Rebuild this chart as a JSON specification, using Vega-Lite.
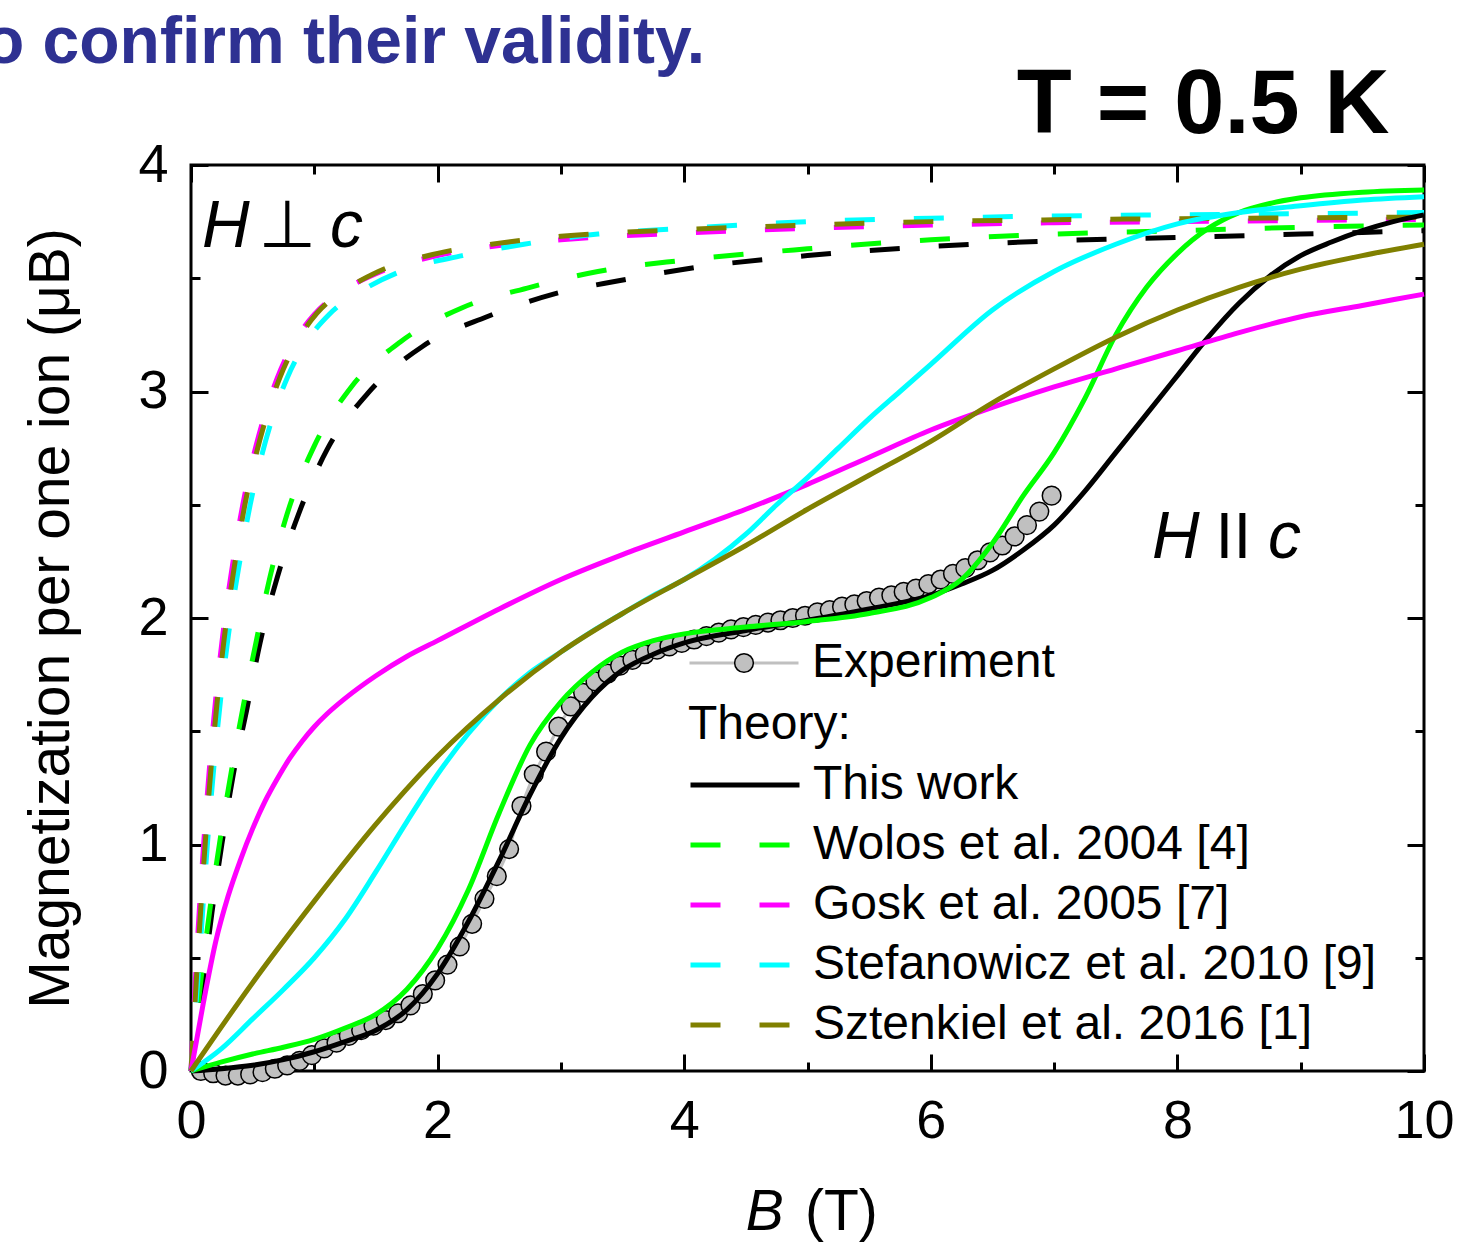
{
  "$schema": "https://vega.github.io/schema/vega-lite/v6.json",
  "width": 1233,
  "height": 906,
  "autosize": {"type": "none"},
  "padding": {"left": 191, "top": 165, "right": 40, "bottom": 172},
  "background": "white",
  "config": {
    "view": {"stroke": "black", "strokeWidth": 3},
    "font": "Liberation Sans",
    "legend": {"labelFont": "Liberation Sans", "titleFont": "Liberation Sans", "labelColor": "black", "titleColor": "black", "labelLimit": 1000, "padding": 0}
  },
  "datasets": {
    "theory": [
      {"model": "This work", "orientation": "perp", "B": 0, "M": 0},
      {"model": "This work", "orientation": "perp", "B": 0.1, "M": 0.4},
      {"model": "This work", "orientation": "perp", "B": 0.17, "M": 0.7},
      {"model": "This work", "orientation": "perp", "B": 0.25, "M": 1.0},
      {"model": "This work", "orientation": "perp", "B": 0.34, "M": 1.3},
      {"model": "This work", "orientation": "perp", "B": 0.45, "M": 1.59},
      {"model": "This work", "orientation": "perp", "B": 0.56, "M": 1.89},
      {"model": "This work", "orientation": "perp", "B": 0.7, "M": 2.18},
      {"model": "This work", "orientation": "perp", "B": 0.88, "M": 2.47},
      {"model": "This work", "orientation": "perp", "B": 1.1, "M": 2.74},
      {"model": "This work", "orientation": "perp", "B": 1.43, "M": 2.99},
      {"model": "This work", "orientation": "perp", "B": 1.88, "M": 3.2},
      {"model": "This work", "orientation": "perp", "B": 2.4, "M": 3.33},
      {"model": "This work", "orientation": "perp", "B": 2.94, "M": 3.43},
      {"model": "This work", "orientation": "perp", "B": 3.48, "M": 3.49},
      {"model": "This work", "orientation": "perp", "B": 4.0, "M": 3.54},
      {"model": "This work", "orientation": "perp", "B": 5.0, "M": 3.6},
      {"model": "This work", "orientation": "perp", "B": 6.0, "M": 3.64},
      {"model": "This work", "orientation": "perp", "B": 7.0, "M": 3.665},
      {"model": "This work", "orientation": "perp", "B": 8.0, "M": 3.68},
      {"model": "This work", "orientation": "perp", "B": 9.0, "M": 3.695},
      {"model": "This work", "orientation": "perp", "B": 10, "M": 3.71},
      {"model": "Wolos et al. 2004 [4]", "orientation": "perp", "B": 0, "M": 0},
      {"model": "Wolos et al. 2004 [4]", "orientation": "perp", "B": 0.08, "M": 0.4},
      {"model": "Wolos et al. 2004 [4]", "orientation": "perp", "B": 0.15, "M": 0.7},
      {"model": "Wolos et al. 2004 [4]", "orientation": "perp", "B": 0.23, "M": 1.0},
      {"model": "Wolos et al. 2004 [4]", "orientation": "perp", "B": 0.32, "M": 1.3},
      {"model": "Wolos et al. 2004 [4]", "orientation": "perp", "B": 0.42, "M": 1.6},
      {"model": "Wolos et al. 2004 [4]", "orientation": "perp", "B": 0.53, "M": 1.9},
      {"model": "Wolos et al. 2004 [4]", "orientation": "perp", "B": 0.64, "M": 2.18},
      {"model": "Wolos et al. 2004 [4]", "orientation": "perp", "B": 0.78, "M": 2.46},
      {"model": "Wolos et al. 2004 [4]", "orientation": "perp", "B": 1.0, "M": 2.76},
      {"model": "Wolos et al. 2004 [4]", "orientation": "perp", "B": 1.3, "M": 3.02},
      {"model": "Wolos et al. 2004 [4]", "orientation": "perp", "B": 1.7, "M": 3.22},
      {"model": "Wolos et al. 2004 [4]", "orientation": "perp", "B": 2.2, "M": 3.37},
      {"model": "Wolos et al. 2004 [4]", "orientation": "perp", "B": 2.75, "M": 3.46},
      {"model": "Wolos et al. 2004 [4]", "orientation": "perp", "B": 3.3, "M": 3.53},
      {"model": "Wolos et al. 2004 [4]", "orientation": "perp", "B": 4.0, "M": 3.58},
      {"model": "Wolos et al. 2004 [4]", "orientation": "perp", "B": 5.0, "M": 3.63},
      {"model": "Wolos et al. 2004 [4]", "orientation": "perp", "B": 6.0, "M": 3.67},
      {"model": "Wolos et al. 2004 [4]", "orientation": "perp", "B": 7.0, "M": 3.695},
      {"model": "Wolos et al. 2004 [4]", "orientation": "perp", "B": 8.0, "M": 3.71},
      {"model": "Wolos et al. 2004 [4]", "orientation": "perp", "B": 9.0, "M": 3.725},
      {"model": "Wolos et al. 2004 [4]", "orientation": "perp", "B": 10, "M": 3.735},
      {"model": "Gosk et al. 2005 [7]", "orientation": "perp", "B": 0, "M": 0},
      {"model": "Gosk et al. 2005 [7]", "orientation": "perp", "B": 0.05, "M": 0.55},
      {"model": "Gosk et al. 2005 [7]", "orientation": "perp", "B": 0.1, "M": 0.98},
      {"model": "Gosk et al. 2005 [7]", "orientation": "perp", "B": 0.15, "M": 1.34},
      {"model": "Gosk et al. 2005 [7]", "orientation": "perp", "B": 0.2, "M": 1.64},
      {"model": "Gosk et al. 2005 [7]", "orientation": "perp", "B": 0.25, "M": 1.89},
      {"model": "Gosk et al. 2005 [7]", "orientation": "perp", "B": 0.3, "M": 2.1},
      {"model": "Gosk et al. 2005 [7]", "orientation": "perp", "B": 0.35, "M": 2.28},
      {"model": "Gosk et al. 2005 [7]", "orientation": "perp", "B": 0.42, "M": 2.5},
      {"model": "Gosk et al. 2005 [7]", "orientation": "perp", "B": 0.5, "M": 2.7},
      {"model": "Gosk et al. 2005 [7]", "orientation": "perp", "B": 0.6, "M": 2.9},
      {"model": "Gosk et al. 2005 [7]", "orientation": "perp", "B": 0.7, "M": 3.06},
      {"model": "Gosk et al. 2005 [7]", "orientation": "perp", "B": 0.85, "M": 3.23},
      {"model": "Gosk et al. 2005 [7]", "orientation": "perp", "B": 1.0, "M": 3.34},
      {"model": "Gosk et al. 2005 [7]", "orientation": "perp", "B": 1.25, "M": 3.45},
      {"model": "Gosk et al. 2005 [7]", "orientation": "perp", "B": 1.5, "M": 3.52},
      {"model": "Gosk et al. 2005 [7]", "orientation": "perp", "B": 2.0, "M": 3.6},
      {"model": "Gosk et al. 2005 [7]", "orientation": "perp", "B": 2.5, "M": 3.645},
      {"model": "Gosk et al. 2005 [7]", "orientation": "perp", "B": 3.0, "M": 3.67},
      {"model": "Gosk et al. 2005 [7]", "orientation": "perp", "B": 4.0, "M": 3.7},
      {"model": "Gosk et al. 2005 [7]", "orientation": "perp", "B": 5.0, "M": 3.72},
      {"model": "Gosk et al. 2005 [7]", "orientation": "perp", "B": 6.0, "M": 3.735},
      {"model": "Gosk et al. 2005 [7]", "orientation": "perp", "B": 7.0, "M": 3.745},
      {"model": "Gosk et al. 2005 [7]", "orientation": "perp", "B": 8.0, "M": 3.75},
      {"model": "Gosk et al. 2005 [7]", "orientation": "perp", "B": 9.0, "M": 3.755},
      {"model": "Gosk et al. 2005 [7]", "orientation": "perp", "B": 10, "M": 3.76},
      {"model": "Stefanowicz et al. 2010 [9]", "orientation": "perp", "B": 0, "M": 0},
      {"model": "Stefanowicz et al. 2010 [9]", "orientation": "perp", "B": 0.075, "M": 0.55},
      {"model": "Stefanowicz et al. 2010 [9]", "orientation": "perp", "B": 0.13, "M": 0.98},
      {"model": "Stefanowicz et al. 2010 [9]", "orientation": "perp", "B": 0.185, "M": 1.34},
      {"model": "Stefanowicz et al. 2010 [9]", "orientation": "perp", "B": 0.24, "M": 1.64},
      {"model": "Stefanowicz et al. 2010 [9]", "orientation": "perp", "B": 0.295, "M": 1.89},
      {"model": "Stefanowicz et al. 2010 [9]", "orientation": "perp", "B": 0.35, "M": 2.1},
      {"model": "Stefanowicz et al. 2010 [9]", "orientation": "perp", "B": 0.405, "M": 2.28},
      {"model": "Stefanowicz et al. 2010 [9]", "orientation": "perp", "B": 0.48, "M": 2.5},
      {"model": "Stefanowicz et al. 2010 [9]", "orientation": "perp", "B": 0.565, "M": 2.7},
      {"model": "Stefanowicz et al. 2010 [9]", "orientation": "perp", "B": 0.67, "M": 2.9},
      {"model": "Stefanowicz et al. 2010 [9]", "orientation": "perp", "B": 0.78, "M": 3.06},
      {"model": "Stefanowicz et al. 2010 [9]", "orientation": "perp", "B": 0.95, "M": 3.23},
      {"model": "Stefanowicz et al. 2010 [9]", "orientation": "perp", "B": 1.12, "M": 3.34},
      {"model": "Stefanowicz et al. 2010 [9]", "orientation": "perp", "B": 1.4, "M": 3.45},
      {"model": "Stefanowicz et al. 2010 [9]", "orientation": "perp", "B": 1.7, "M": 3.53},
      {"model": "Stefanowicz et al. 2010 [9]", "orientation": "perp", "B": 2.2, "M": 3.6},
      {"model": "Stefanowicz et al. 2010 [9]", "orientation": "perp", "B": 2.7, "M": 3.65},
      {"model": "Stefanowicz et al. 2010 [9]", "orientation": "perp", "B": 3.3, "M": 3.695},
      {"model": "Stefanowicz et al. 2010 [9]", "orientation": "perp", "B": 4.0, "M": 3.72},
      {"model": "Stefanowicz et al. 2010 [9]", "orientation": "perp", "B": 5.0, "M": 3.75},
      {"model": "Stefanowicz et al. 2010 [9]", "orientation": "perp", "B": 6.0, "M": 3.765},
      {"model": "Stefanowicz et al. 2010 [9]", "orientation": "perp", "B": 7.0, "M": 3.775},
      {"model": "Stefanowicz et al. 2010 [9]", "orientation": "perp", "B": 8.0, "M": 3.78},
      {"model": "Stefanowicz et al. 2010 [9]", "orientation": "perp", "B": 9.0, "M": 3.785},
      {"model": "Stefanowicz et al. 2010 [9]", "orientation": "perp", "B": 10, "M": 3.79},
      {"model": "Sztenkiel et al. 2016 [1]", "orientation": "perp", "B": 0, "M": 0},
      {"model": "Sztenkiel et al. 2016 [1]", "orientation": "perp", "B": 0.06, "M": 0.55},
      {"model": "Sztenkiel et al. 2016 [1]", "orientation": "perp", "B": 0.112, "M": 0.98},
      {"model": "Sztenkiel et al. 2016 [1]", "orientation": "perp", "B": 0.163, "M": 1.34},
      {"model": "Sztenkiel et al. 2016 [1]", "orientation": "perp", "B": 0.214, "M": 1.64},
      {"model": "Sztenkiel et al. 2016 [1]", "orientation": "perp", "B": 0.265, "M": 1.89},
      {"model": "Sztenkiel et al. 2016 [1]", "orientation": "perp", "B": 0.316, "M": 2.1},
      {"model": "Sztenkiel et al. 2016 [1]", "orientation": "perp", "B": 0.367, "M": 2.28},
      {"model": "Sztenkiel et al. 2016 [1]", "orientation": "perp", "B": 0.437, "M": 2.5},
      {"model": "Sztenkiel et al. 2016 [1]", "orientation": "perp", "B": 0.518, "M": 2.7},
      {"model": "Sztenkiel et al. 2016 [1]", "orientation": "perp", "B": 0.618, "M": 2.9},
      {"model": "Sztenkiel et al. 2016 [1]", "orientation": "perp", "B": 0.72, "M": 3.06},
      {"model": "Sztenkiel et al. 2016 [1]", "orientation": "perp", "B": 0.87, "M": 3.23},
      {"model": "Sztenkiel et al. 2016 [1]", "orientation": "perp", "B": 1.02, "M": 3.345},
      {"model": "Sztenkiel et al. 2016 [1]", "orientation": "perp", "B": 1.27, "M": 3.455},
      {"model": "Sztenkiel et al. 2016 [1]", "orientation": "perp", "B": 1.52, "M": 3.53},
      {"model": "Sztenkiel et al. 2016 [1]", "orientation": "perp", "B": 2.0, "M": 3.61},
      {"model": "Sztenkiel et al. 2016 [1]", "orientation": "perp", "B": 2.5, "M": 3.655},
      {"model": "Sztenkiel et al. 2016 [1]", "orientation": "perp", "B": 3.0, "M": 3.685},
      {"model": "Sztenkiel et al. 2016 [1]", "orientation": "perp", "B": 4.0, "M": 3.715},
      {"model": "Sztenkiel et al. 2016 [1]", "orientation": "perp", "B": 5.0, "M": 3.735},
      {"model": "Sztenkiel et al. 2016 [1]", "orientation": "perp", "B": 6.0, "M": 3.75},
      {"model": "Sztenkiel et al. 2016 [1]", "orientation": "perp", "B": 7.0, "M": 3.758},
      {"model": "Sztenkiel et al. 2016 [1]", "orientation": "perp", "B": 8.0, "M": 3.763},
      {"model": "Sztenkiel et al. 2016 [1]", "orientation": "perp", "B": 9.0, "M": 3.767},
      {"model": "Sztenkiel et al. 2016 [1]", "orientation": "perp", "B": 10, "M": 3.77},

      {"model": "This work", "orientation": "par", "B": 0, "M": 0},
      {"model": "This work", "orientation": "par", "B": 0.25, "M": 0.01},
      {"model": "This work", "orientation": "par", "B": 0.5, "M": 0.025},
      {"model": "This work", "orientation": "par", "B": 0.75, "M": 0.05},
      {"model": "This work", "orientation": "par", "B": 1.0, "M": 0.085},
      {"model": "This work", "orientation": "par", "B": 1.25, "M": 0.13},
      {"model": "This work", "orientation": "par", "B": 1.5, "M": 0.18},
      {"model": "This work", "orientation": "par", "B": 1.75, "M": 0.27},
      {"model": "This work", "orientation": "par", "B": 2.0, "M": 0.43},
      {"model": "This work", "orientation": "par", "B": 2.25, "M": 0.66},
      {"model": "This work", "orientation": "par", "B": 2.5, "M": 0.93},
      {"model": "This work", "orientation": "par", "B": 2.75, "M": 1.22},
      {"model": "This work", "orientation": "par", "B": 3.0, "M": 1.47},
      {"model": "This work", "orientation": "par", "B": 3.25, "M": 1.65},
      {"model": "This work", "orientation": "par", "B": 3.5, "M": 1.77},
      {"model": "This work", "orientation": "par", "B": 3.75, "M": 1.84},
      {"model": "This work", "orientation": "par", "B": 4.0, "M": 1.89},
      {"model": "This work", "orientation": "par", "B": 4.5, "M": 1.945},
      {"model": "This work", "orientation": "par", "B": 5.0, "M": 1.99},
      {"model": "This work", "orientation": "par", "B": 5.5, "M": 2.04},
      {"model": "This work", "orientation": "par", "B": 6.0, "M": 2.1},
      {"model": "This work", "orientation": "par", "B": 6.25, "M": 2.15},
      {"model": "This work", "orientation": "par", "B": 6.5, "M": 2.21},
      {"model": "This work", "orientation": "par", "B": 6.75, "M": 2.3},
      {"model": "This work", "orientation": "par", "B": 7.0, "M": 2.41},
      {"model": "This work", "orientation": "par", "B": 7.25, "M": 2.56},
      {"model": "This work", "orientation": "par", "B": 7.5, "M": 2.73},
      {"model": "This work", "orientation": "par", "B": 7.75, "M": 2.9},
      {"model": "This work", "orientation": "par", "B": 8.0, "M": 3.07},
      {"model": "This work", "orientation": "par", "B": 8.25, "M": 3.24},
      {"model": "This work", "orientation": "par", "B": 8.5, "M": 3.39},
      {"model": "This work", "orientation": "par", "B": 8.75, "M": 3.51},
      {"model": "This work", "orientation": "par", "B": 9.0, "M": 3.6},
      {"model": "This work", "orientation": "par", "B": 9.25, "M": 3.66},
      {"model": "This work", "orientation": "par", "B": 9.5, "M": 3.71},
      {"model": "This work", "orientation": "par", "B": 9.75, "M": 3.75},
      {"model": "This work", "orientation": "par", "B": 10, "M": 3.78},
      {"model": "Wolos et al. 2004 [4]", "orientation": "par", "B": 0, "M": 0},
      {"model": "Wolos et al. 2004 [4]", "orientation": "par", "B": 0.25, "M": 0.04},
      {"model": "Wolos et al. 2004 [4]", "orientation": "par", "B": 0.5, "M": 0.075},
      {"model": "Wolos et al. 2004 [4]", "orientation": "par", "B": 0.75, "M": 0.105},
      {"model": "Wolos et al. 2004 [4]", "orientation": "par", "B": 1.0, "M": 0.14},
      {"model": "Wolos et al. 2004 [4]", "orientation": "par", "B": 1.25, "M": 0.19},
      {"model": "Wolos et al. 2004 [4]", "orientation": "par", "B": 1.5, "M": 0.25},
      {"model": "Wolos et al. 2004 [4]", "orientation": "par", "B": 1.75, "M": 0.36},
      {"model": "Wolos et al. 2004 [4]", "orientation": "par", "B": 2.0, "M": 0.54},
      {"model": "Wolos et al. 2004 [4]", "orientation": "par", "B": 2.25, "M": 0.8},
      {"model": "Wolos et al. 2004 [4]", "orientation": "par", "B": 2.5, "M": 1.14},
      {"model": "Wolos et al. 2004 [4]", "orientation": "par", "B": 2.75, "M": 1.44},
      {"model": "Wolos et al. 2004 [4]", "orientation": "par", "B": 3.0, "M": 1.63},
      {"model": "Wolos et al. 2004 [4]", "orientation": "par", "B": 3.25, "M": 1.76},
      {"model": "Wolos et al. 2004 [4]", "orientation": "par", "B": 3.5, "M": 1.85},
      {"model": "Wolos et al. 2004 [4]", "orientation": "par", "B": 3.75, "M": 1.9},
      {"model": "Wolos et al. 2004 [4]", "orientation": "par", "B": 4.0, "M": 1.93},
      {"model": "Wolos et al. 2004 [4]", "orientation": "par", "B": 4.5, "M": 1.96},
      {"model": "Wolos et al. 2004 [4]", "orientation": "par", "B": 5.0, "M": 1.985},
      {"model": "Wolos et al. 2004 [4]", "orientation": "par", "B": 5.5, "M": 2.02},
      {"model": "Wolos et al. 2004 [4]", "orientation": "par", "B": 6.0, "M": 2.09},
      {"model": "Wolos et al. 2004 [4]", "orientation": "par", "B": 6.25, "M": 2.17},
      {"model": "Wolos et al. 2004 [4]", "orientation": "par", "B": 6.5, "M": 2.33},
      {"model": "Wolos et al. 2004 [4]", "orientation": "par", "B": 6.75, "M": 2.54},
      {"model": "Wolos et al. 2004 [4]", "orientation": "par", "B": 7.0, "M": 2.73},
      {"model": "Wolos et al. 2004 [4]", "orientation": "par", "B": 7.25, "M": 2.97},
      {"model": "Wolos et al. 2004 [4]", "orientation": "par", "B": 7.5, "M": 3.25},
      {"model": "Wolos et al. 2004 [4]", "orientation": "par", "B": 7.75, "M": 3.46},
      {"model": "Wolos et al. 2004 [4]", "orientation": "par", "B": 8.0, "M": 3.61},
      {"model": "Wolos et al. 2004 [4]", "orientation": "par", "B": 8.25, "M": 3.72},
      {"model": "Wolos et al. 2004 [4]", "orientation": "par", "B": 8.5, "M": 3.79},
      {"model": "Wolos et al. 2004 [4]", "orientation": "par", "B": 8.75, "M": 3.83},
      {"model": "Wolos et al. 2004 [4]", "orientation": "par", "B": 9.0, "M": 3.855},
      {"model": "Wolos et al. 2004 [4]", "orientation": "par", "B": 9.5, "M": 3.88},
      {"model": "Wolos et al. 2004 [4]", "orientation": "par", "B": 10, "M": 3.89},
      {"model": "Gosk et al. 2005 [7]", "orientation": "par", "B": 0, "M": 0},
      {"model": "Gosk et al. 2005 [7]", "orientation": "par", "B": 0.1, "M": 0.3},
      {"model": "Gosk et al. 2005 [7]", "orientation": "par", "B": 0.2, "M": 0.57},
      {"model": "Gosk et al. 2005 [7]", "orientation": "par", "B": 0.3, "M": 0.77},
      {"model": "Gosk et al. 2005 [7]", "orientation": "par", "B": 0.4, "M": 0.93},
      {"model": "Gosk et al. 2005 [7]", "orientation": "par", "B": 0.5, "M": 1.07},
      {"model": "Gosk et al. 2005 [7]", "orientation": "par", "B": 0.6, "M": 1.19},
      {"model": "Gosk et al. 2005 [7]", "orientation": "par", "B": 0.7, "M": 1.29},
      {"model": "Gosk et al. 2005 [7]", "orientation": "par", "B": 0.8, "M": 1.38},
      {"model": "Gosk et al. 2005 [7]", "orientation": "par", "B": 0.9, "M": 1.455},
      {"model": "Gosk et al. 2005 [7]", "orientation": "par", "B": 1.0, "M": 1.52},
      {"model": "Gosk et al. 2005 [7]", "orientation": "par", "B": 1.1, "M": 1.575},
      {"model": "Gosk et al. 2005 [7]", "orientation": "par", "B": 1.25, "M": 1.645},
      {"model": "Gosk et al. 2005 [7]", "orientation": "par", "B": 1.5, "M": 1.745},
      {"model": "Gosk et al. 2005 [7]", "orientation": "par", "B": 1.75, "M": 1.83},
      {"model": "Gosk et al. 2005 [7]", "orientation": "par", "B": 2.0, "M": 1.9},
      {"model": "Gosk et al. 2005 [7]", "orientation": "par", "B": 2.5, "M": 2.04},
      {"model": "Gosk et al. 2005 [7]", "orientation": "par", "B": 3.0, "M": 2.17},
      {"model": "Gosk et al. 2005 [7]", "orientation": "par", "B": 3.5, "M": 2.28},
      {"model": "Gosk et al. 2005 [7]", "orientation": "par", "B": 4.0, "M": 2.38},
      {"model": "Gosk et al. 2005 [7]", "orientation": "par", "B": 4.5, "M": 2.48},
      {"model": "Gosk et al. 2005 [7]", "orientation": "par", "B": 5.0, "M": 2.59},
      {"model": "Gosk et al. 2005 [7]", "orientation": "par", "B": 5.5, "M": 2.71},
      {"model": "Gosk et al. 2005 [7]", "orientation": "par", "B": 6.0, "M": 2.83},
      {"model": "Gosk et al. 2005 [7]", "orientation": "par", "B": 6.5, "M": 2.93},
      {"model": "Gosk et al. 2005 [7]", "orientation": "par", "B": 7.0, "M": 3.02},
      {"model": "Gosk et al. 2005 [7]", "orientation": "par", "B": 7.5, "M": 3.1},
      {"model": "Gosk et al. 2005 [7]", "orientation": "par", "B": 8.0, "M": 3.18},
      {"model": "Gosk et al. 2005 [7]", "orientation": "par", "B": 8.5, "M": 3.26},
      {"model": "Gosk et al. 2005 [7]", "orientation": "par", "B": 9.0, "M": 3.33},
      {"model": "Gosk et al. 2005 [7]", "orientation": "par", "B": 9.5, "M": 3.38},
      {"model": "Gosk et al. 2005 [7]", "orientation": "par", "B": 10, "M": 3.43},
      {"model": "Stefanowicz et al. 2010 [9]", "orientation": "par", "B": 0, "M": 0},
      {"model": "Stefanowicz et al. 2010 [9]", "orientation": "par", "B": 0.25, "M": 0.1},
      {"model": "Stefanowicz et al. 2010 [9]", "orientation": "par", "B": 0.5, "M": 0.23},
      {"model": "Stefanowicz et al. 2010 [9]", "orientation": "par", "B": 0.75, "M": 0.36},
      {"model": "Stefanowicz et al. 2010 [9]", "orientation": "par", "B": 1.0, "M": 0.5},
      {"model": "Stefanowicz et al. 2010 [9]", "orientation": "par", "B": 1.25, "M": 0.67},
      {"model": "Stefanowicz et al. 2010 [9]", "orientation": "par", "B": 1.5, "M": 0.88},
      {"model": "Stefanowicz et al. 2010 [9]", "orientation": "par", "B": 1.75, "M": 1.1},
      {"model": "Stefanowicz et al. 2010 [9]", "orientation": "par", "B": 2.0, "M": 1.31},
      {"model": "Stefanowicz et al. 2010 [9]", "orientation": "par", "B": 2.25, "M": 1.49},
      {"model": "Stefanowicz et al. 2010 [9]", "orientation": "par", "B": 2.5, "M": 1.64},
      {"model": "Stefanowicz et al. 2010 [9]", "orientation": "par", "B": 2.75, "M": 1.76},
      {"model": "Stefanowicz et al. 2010 [9]", "orientation": "par", "B": 3.0, "M": 1.85},
      {"model": "Stefanowicz et al. 2010 [9]", "orientation": "par", "B": 3.25, "M": 1.94},
      {"model": "Stefanowicz et al. 2010 [9]", "orientation": "par", "B": 3.5, "M": 2.02},
      {"model": "Stefanowicz et al. 2010 [9]", "orientation": "par", "B": 3.75, "M": 2.1},
      {"model": "Stefanowicz et al. 2010 [9]", "orientation": "par", "B": 4.0, "M": 2.17},
      {"model": "Stefanowicz et al. 2010 [9]", "orientation": "par", "B": 4.25, "M": 2.26},
      {"model": "Stefanowicz et al. 2010 [9]", "orientation": "par", "B": 4.5, "M": 2.37},
      {"model": "Stefanowicz et al. 2010 [9]", "orientation": "par", "B": 4.75, "M": 2.5},
      {"model": "Stefanowicz et al. 2010 [9]", "orientation": "par", "B": 5.0, "M": 2.62},
      {"model": "Stefanowicz et al. 2010 [9]", "orientation": "par", "B": 5.25, "M": 2.75},
      {"model": "Stefanowicz et al. 2010 [9]", "orientation": "par", "B": 5.5, "M": 2.88},
      {"model": "Stefanowicz et al. 2010 [9]", "orientation": "par", "B": 5.75, "M": 3.0},
      {"model": "Stefanowicz et al. 2010 [9]", "orientation": "par", "B": 6.0, "M": 3.12},
      {"model": "Stefanowicz et al. 2010 [9]", "orientation": "par", "B": 6.5, "M": 3.36},
      {"model": "Stefanowicz et al. 2010 [9]", "orientation": "par", "B": 7.0, "M": 3.53},
      {"model": "Stefanowicz et al. 2010 [9]", "orientation": "par", "B": 7.5, "M": 3.65},
      {"model": "Stefanowicz et al. 2010 [9]", "orientation": "par", "B": 8.0, "M": 3.74},
      {"model": "Stefanowicz et al. 2010 [9]", "orientation": "par", "B": 8.5, "M": 3.79},
      {"model": "Stefanowicz et al. 2010 [9]", "orientation": "par", "B": 9.0, "M": 3.82},
      {"model": "Stefanowicz et al. 2010 [9]", "orientation": "par", "B": 9.5, "M": 3.845},
      {"model": "Stefanowicz et al. 2010 [9]", "orientation": "par", "B": 10, "M": 3.86},
      {"model": "Sztenkiel et al. 2016 [1]", "orientation": "par", "B": 0, "M": 0},
      {"model": "Sztenkiel et al. 2016 [1]", "orientation": "par", "B": 0.5, "M": 0.39},
      {"model": "Sztenkiel et al. 2016 [1]", "orientation": "par", "B": 1.0, "M": 0.75},
      {"model": "Sztenkiel et al. 2016 [1]", "orientation": "par", "B": 1.5, "M": 1.09},
      {"model": "Sztenkiel et al. 2016 [1]", "orientation": "par", "B": 2.0, "M": 1.39},
      {"model": "Sztenkiel et al. 2016 [1]", "orientation": "par", "B": 2.5, "M": 1.64},
      {"model": "Sztenkiel et al. 2016 [1]", "orientation": "par", "B": 3.0, "M": 1.85},
      {"model": "Sztenkiel et al. 2016 [1]", "orientation": "par", "B": 3.5, "M": 2.02},
      {"model": "Sztenkiel et al. 2016 [1]", "orientation": "par", "B": 4.0, "M": 2.17},
      {"model": "Sztenkiel et al. 2016 [1]", "orientation": "par", "B": 4.5, "M": 2.32},
      {"model": "Sztenkiel et al. 2016 [1]", "orientation": "par", "B": 5.0, "M": 2.48},
      {"model": "Sztenkiel et al. 2016 [1]", "orientation": "par", "B": 5.5, "M": 2.63},
      {"model": "Sztenkiel et al. 2016 [1]", "orientation": "par", "B": 6.0, "M": 2.78},
      {"model": "Sztenkiel et al. 2016 [1]", "orientation": "par", "B": 6.5, "M": 2.95},
      {"model": "Sztenkiel et al. 2016 [1]", "orientation": "par", "B": 7.0, "M": 3.1},
      {"model": "Sztenkiel et al. 2016 [1]", "orientation": "par", "B": 7.5, "M": 3.24},
      {"model": "Sztenkiel et al. 2016 [1]", "orientation": "par", "B": 8.0, "M": 3.36},
      {"model": "Sztenkiel et al. 2016 [1]", "orientation": "par", "B": 8.5, "M": 3.46},
      {"model": "Sztenkiel et al. 2016 [1]", "orientation": "par", "B": 9.0, "M": 3.54},
      {"model": "Sztenkiel et al. 2016 [1]", "orientation": "par", "B": 9.5, "M": 3.6},
      {"model": "Sztenkiel et al. 2016 [1]", "orientation": "par", "B": 10, "M": 3.65}
    ],
    "experiment": [
      {"series": "Experiment", "B": 0.08, "M": 0.0},
      {"series": "Experiment", "B": 0.18, "M": -0.01},
      {"series": "Experiment", "B": 0.28, "M": -0.02},
      {"series": "Experiment", "B": 0.38, "M": -0.02},
      {"series": "Experiment", "B": 0.48, "M": -0.015},
      {"series": "Experiment", "B": 0.58, "M": -0.005},
      {"series": "Experiment", "B": 0.68, "M": 0.01},
      {"series": "Experiment", "B": 0.78, "M": 0.025},
      {"series": "Experiment", "B": 0.88, "M": 0.045},
      {"series": "Experiment", "B": 0.98, "M": 0.07},
      {"series": "Experiment", "B": 1.08, "M": 0.1},
      {"series": "Experiment", "B": 1.18, "M": 0.125},
      {"series": "Experiment", "B": 1.28, "M": 0.155},
      {"series": "Experiment", "B": 1.38, "M": 0.18},
      {"series": "Experiment", "B": 1.48, "M": 0.2},
      {"series": "Experiment", "B": 1.58, "M": 0.225},
      {"series": "Experiment", "B": 1.68, "M": 0.255},
      {"series": "Experiment", "B": 1.78, "M": 0.29},
      {"series": "Experiment", "B": 1.88, "M": 0.34},
      {"series": "Experiment", "B": 1.98, "M": 0.4},
      {"series": "Experiment", "B": 2.08, "M": 0.47},
      {"series": "Experiment", "B": 2.18, "M": 0.55},
      {"series": "Experiment", "B": 2.28, "M": 0.65},
      {"series": "Experiment", "B": 2.38, "M": 0.76},
      {"series": "Experiment", "B": 2.48, "M": 0.86},
      {"series": "Experiment", "B": 2.58, "M": 0.98},
      {"series": "Experiment", "B": 2.68, "M": 1.17},
      {"series": "Experiment", "B": 2.78, "M": 1.31},
      {"series": "Experiment", "B": 2.88, "M": 1.41},
      {"series": "Experiment", "B": 2.98, "M": 1.52},
      {"series": "Experiment", "B": 3.08, "M": 1.61},
      {"series": "Experiment", "B": 3.18, "M": 1.67},
      {"series": "Experiment", "B": 3.28, "M": 1.72},
      {"series": "Experiment", "B": 3.38, "M": 1.755},
      {"series": "Experiment", "B": 3.48, "M": 1.79},
      {"series": "Experiment", "B": 3.58, "M": 1.815},
      {"series": "Experiment", "B": 3.68, "M": 1.84},
      {"series": "Experiment", "B": 3.78, "M": 1.86},
      {"series": "Experiment", "B": 3.88, "M": 1.875},
      {"series": "Experiment", "B": 3.98, "M": 1.89},
      {"series": "Experiment", "B": 4.08, "M": 1.905},
      {"series": "Experiment", "B": 4.18, "M": 1.92},
      {"series": "Experiment", "B": 4.28, "M": 1.935},
      {"series": "Experiment", "B": 4.38, "M": 1.95},
      {"series": "Experiment", "B": 4.48, "M": 1.96},
      {"series": "Experiment", "B": 4.58, "M": 1.97},
      {"series": "Experiment", "B": 4.68, "M": 1.98},
      {"series": "Experiment", "B": 4.78, "M": 1.99},
      {"series": "Experiment", "B": 4.88, "M": 2.0},
      {"series": "Experiment", "B": 4.98, "M": 2.01},
      {"series": "Experiment", "B": 5.08, "M": 2.025},
      {"series": "Experiment", "B": 5.18, "M": 2.035},
      {"series": "Experiment", "B": 5.28, "M": 2.05},
      {"series": "Experiment", "B": 5.38, "M": 2.06},
      {"series": "Experiment", "B": 5.48, "M": 2.075},
      {"series": "Experiment", "B": 5.58, "M": 2.09},
      {"series": "Experiment", "B": 5.68, "M": 2.1},
      {"series": "Experiment", "B": 5.78, "M": 2.115},
      {"series": "Experiment", "B": 5.88, "M": 2.13},
      {"series": "Experiment", "B": 5.98, "M": 2.15},
      {"series": "Experiment", "B": 6.08, "M": 2.17},
      {"series": "Experiment", "B": 6.18, "M": 2.195},
      {"series": "Experiment", "B": 6.28, "M": 2.22},
      {"series": "Experiment", "B": 6.38, "M": 2.255},
      {"series": "Experiment", "B": 6.48, "M": 2.29},
      {"series": "Experiment", "B": 6.58, "M": 2.32},
      {"series": "Experiment", "B": 6.68, "M": 2.36},
      {"series": "Experiment", "B": 6.78, "M": 2.41},
      {"series": "Experiment", "B": 6.88, "M": 2.47},
      {"series": "Experiment", "B": 6.98, "M": 2.54}
    ]
  },
  "layer": [
    {
      "data": {"name": "theory"},
      "transform": [{"filter": "datum.orientation === 'perp'"}],
      "mark": {"type": "line", "strokeWidth": 5, "strokeDash": [30, 39], "strokeCap": "butt", "interpolate": "monotone"},
      "encoding": {
        "x": {"field": "B", "type": "quantitative", "scale": {"domain": [0, 10], "nice": false, "zero": false},
          "axis": {"orient": "bottom", "values": [0, 1, 2, 3, 4, 5, 6, 7, 8, 9, 10], "labelExpr": "datum.value % 2 === 0 ? format(datum.value, 'd') : ''",
            "tickSize": {"condition": {"test": "datum.value % 2 === 0", "value": -17}, "value": -9},
            "tickWidth": 3, "tickColor": "black", "domain": false, "grid": false, "labelFontSize": 54, "labelFont": "Liberation Sans", "labelColor": "black", "labelPadding": 40, "labelFlush": false, "labelOverlap": false, "title": null}},
        "y": {"field": "M", "type": "quantitative", "scale": {"domain": [0, 4], "nice": false, "zero": false},
          "axis": {"orient": "left", "values": [0, 0.5, 1, 1.5, 2, 2.5, 3, 3.5, 4], "labelExpr": "datum.value % 1 === 0 ? format(datum.value, 'd') : ''",
            "tickSize": {"condition": {"test": "datum.value % 1 === 0", "value": -17}, "value": -9},
            "tickWidth": 3, "tickColor": "black", "domain": false, "grid": false, "labelFontSize": 54, "labelFont": "Liberation Sans", "labelColor": "black", "labelPadding": 40, "labelFlush": false, "labelOverlap": false,
            "title": "Magnetization per one ion (μB)", "titleFontSize": 57, "titleFont": "Liberation Sans", "titleFontWeight": "normal", "titleColor": "black", "titlePadding": 57}},
        "color": {"field": "model", "type": "nominal",
          "scale": {"domain": ["This work", "Wolos et al. 2004 [4]", "Gosk et al. 2005 [7]", "Stefanowicz et al. 2010 [9]", "Sztenkiel et al. 2016 [1]"], "range": ["#000000", "#00ff00", "#ff00ff", "#00ffff", "#808000"]},
          "legend": {"title": "Theory:", "orient": "none", "legendX": 497, "legendY": 536, "symbolType": "stroke", "symbolSize": 11881, "symbolStrokeWidth": 5, "clipHeight": 48,
            "labelFontSize": 48, "labelOffset": 11, "titleFontSize": 48, "titleFontWeight": "normal", "titlePadding": 12, "rowPadding": 12,
            "encode": {"symbols": {"update": {"strokeDash": {"signal": "datum.value === 'This work' ? [1, 0] : [30, 39]"}}}}}}
      }
    },
    {
      "data": {"name": "experiment"},
      "mark": {"type": "line", "strokeWidth": 3},
      "encoding": {
        "x": {"field": "B", "type": "quantitative",
          "axis": {"orient": "top", "values": [0, 1, 2, 3, 4, 5, 6, 7, 8, 9, 10], "labels": false,
            "tickSize": {"condition": {"test": "datum.value % 2 === 0", "value": -17}, "value": -9},
            "tickWidth": 3, "tickColor": "black", "domain": false, "grid": false, "title": null}},
        "y": {"field": "M", "type": "quantitative",
          "axis": {"orient": "right", "values": [0, 0.5, 1, 1.5, 2, 2.5, 3, 3.5, 4], "labels": false,
            "tickSize": {"condition": {"test": "datum.value % 1 === 0", "value": -17}, "value": -9},
            "tickWidth": 3, "tickColor": "black", "domain": false, "grid": false, "title": null}},
        "stroke": {"datum": "Experiment", "type": "nominal", "scale": {"range": ["#c0c0c0"]},
          "legend": {"title": null, "orient": "none", "legendX": 497, "legendY": 474, "symbolType": "stroke", "symbolSize": 11881, "symbolStrokeWidth": 3, "clipHeight": 48, "labelFontSize": 48, "labelOffset": 12}}
      }
    },
    {
      "data": {"name": "experiment"},
      "mark": {"type": "point", "filled": true, "size": 350, "stroke": "black", "strokeWidth": 1.5, "opacity": 1},
      "encoding": {
        "x": {"field": "B", "type": "quantitative", "axis": null},
        "y": {"field": "M", "type": "quantitative", "axis": null},
        "fill": {"field": "series", "type": "nominal", "scale": {"range": ["#c0c0c0"]},
          "legend": {"title": null, "orient": "none", "legendX": 529, "legendY": 474, "symbolType": "circle", "symbolSize": 350, "symbolStrokeColor": "black", "symbolStrokeWidth": 1.5, "labelFontSize": 48, "labelExpr": "''"}}
      }
    },
    {
      "data": {"name": "theory"},
      "transform": [{"filter": "datum.orientation === 'par'"}],
      "mark": {"type": "line", "strokeWidth": 5, "interpolate": "monotone"},
      "encoding": {
        "x": {"field": "B", "type": "quantitative", "axis": null},
        "y": {"field": "M", "type": "quantitative", "axis": null},
        "color": {"field": "model", "type": "nominal"}
      }
    },
    {
      "data": {"values": [{}]},
      "mark": {"type": "text", "text": "T = 0.5 K", "align": "right", "baseline": "alphabetic", "fontSize": 90, "fontWeight": "bold", "font": "Liberation Sans", "color": "black"},
      "encoding": {"x": {"datum": 9.72, "type": "quantitative", "axis": null}, "y": {"datum": 4.14, "type": "quantitative", "axis": null}}
    },
    {
      "data": {"values": [{}]},
      "mark": {"type": "text", "text": "to confirm their validity.", "align": "right", "baseline": "alphabetic", "fontSize": 66, "fontWeight": "bold", "font": "Liberation Sans", "color": "#2E3192"},
      "encoding": {"x": {"datum": 4.17, "type": "quantitative", "axis": null}, "y": {"datum": 4.45, "type": "quantitative", "axis": null}}
    },
    {
      "data": {"values": [{}]},
      "mark": {"type": "text", "text": "H", "align": "left", "baseline": "alphabetic", "fontSize": 66, "fontStyle": "italic", "font": "Liberation Sans", "color": "black"},
      "encoding": {"x": {"datum": 0.089, "type": "quantitative", "axis": null}, "y": {"datum": 3.638, "type": "quantitative", "axis": null}}
    },
    {
      "data": {"values": [{}]},
      "mark": {"type": "text", "text": "⊥", "align": "center", "baseline": "alphabetic", "fontSize": 66, "font": "DejaVu Sans", "color": "black"},
      "encoding": {"x": {"datum": 0.78, "type": "quantitative", "axis": null}, "y": {"datum": 3.638, "type": "quantitative", "axis": null}}
    },
    {
      "data": {"values": [{}]},
      "mark": {"type": "text", "text": "c", "align": "left", "baseline": "alphabetic", "fontSize": 66, "fontStyle": "italic", "font": "Liberation Sans", "color": "black"},
      "encoding": {"x": {"datum": 1.127, "type": "quantitative", "axis": null}, "y": {"datum": 3.638, "type": "quantitative", "axis": null}}
    },
    {
      "data": {"values": [{}]},
      "mark": {"type": "text", "text": "H", "align": "left", "baseline": "alphabetic", "fontSize": 66, "fontStyle": "italic", "font": "Liberation Sans", "color": "black"},
      "encoding": {"x": {"datum": 7.794, "type": "quantitative", "axis": null}, "y": {"datum": 2.265, "type": "quantitative", "axis": null}}
    },
    {
      "data": {"values": [{}]},
      "mark": {"type": "text", "text": "II", "align": "left", "baseline": "alphabetic", "fontSize": 64, "font": "Liberation Sans", "color": "black"},
      "encoding": {"x": {"datum": 8.31, "type": "quantitative", "axis": null}, "y": {"datum": 2.265, "type": "quantitative", "axis": null}}
    },
    {
      "data": {"values": [{}]},
      "mark": {"type": "text", "text": "c", "align": "left", "baseline": "alphabetic", "fontSize": 66, "fontStyle": "italic", "font": "Liberation Sans", "color": "black"},
      "encoding": {"x": {"datum": 8.735, "type": "quantitative", "axis": null}, "y": {"datum": 2.265, "type": "quantitative", "axis": null}}
    },
    {
      "data": {"values": [{}]},
      "mark": {"type": "text", "text": "B", "align": "left", "baseline": "alphabetic", "fontSize": 57, "fontStyle": "italic", "font": "Liberation Sans", "color": "black"},
      "encoding": {"x": {"datum": 4.5, "type": "quantitative", "axis": null}, "y": {"datum": -0.702, "type": "quantitative", "axis": null}}
    },
    {
      "data": {"values": [{}]},
      "mark": {"type": "text", "text": "(T)", "align": "left", "baseline": "alphabetic", "fontSize": 57, "font": "Liberation Sans", "color": "black"},
      "encoding": {"x": {"datum": 4.98, "type": "quantitative", "axis": null}, "y": {"datum": -0.702, "type": "quantitative", "axis": null}}
    }
  ],
  "resolve": {"axis": {"x": "independent", "y": "independent"}}
}
